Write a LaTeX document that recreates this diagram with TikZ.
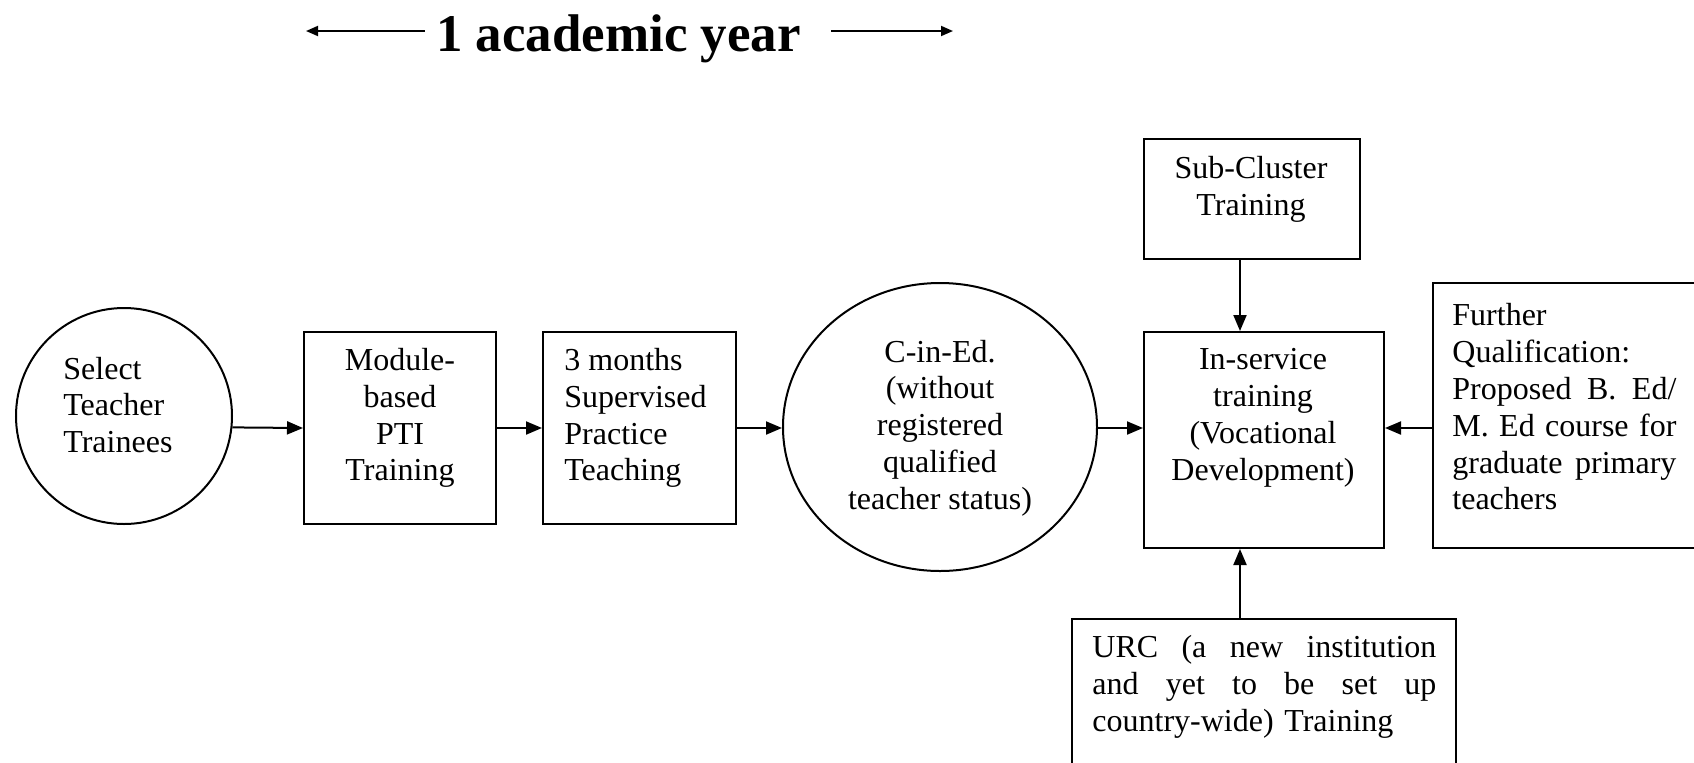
\documentclass[tikz,border=0pt]{standalone}
\usepackage{fontspec}
\setmainfont{Liberation Serif}
\usetikzlibrary{arrows.meta,shapes.geometric}
\newcommand\jline[2]{\leavevmode\hbox to #1{#2}}
\begin{document}
\begin{tikzpicture}[x=0.5pt,y=-0.5pt,
  shp/.style={draw, line width=1pt, inner sep=0pt},
  txt/.style={inner sep=0pt, font=\fontsize{16}{18.4}\selectfont},
  arr/.style={line width=1pt, -{Triangle[length=8pt,width=6.5pt]}},
  tarr/.style={line width=0.9pt, -{Triangle[length=6pt,width=5pt]}}]
\useasboundingbox (0,0) rectangle (1694,762);

% title
\node[inner sep=0pt, anchor=base, font=\fontsize{26.5}{30}\selectfont\bfseries] (ttl) at (618.5,51) {1 academic year};
\coordinate (lt) at (306,31);
\coordinate (rt) at (953,31);
\draw[tarr] ([xshift=-5.5pt]ttl.west |- lt) -- (lt);
\draw[tarr] ([xshift=15pt]ttl.east |- rt) -- (rt);

% shapes
\node[shp, circle, minimum size=108pt] (sel) at (124,416) {};
\node[shp, rectangle, minimum width=96pt, minimum height=96pt] (mod) at (400,428) {};
\node[shp, rectangle, minimum width=96.5pt, minimum height=96pt] (thr) at (639.5,428) {};
\node[shp, ellipse, minimum width=157pt, minimum height=144pt] (ced) at (940,427) {};
\node[shp, rectangle, minimum width=120pt, minimum height=108pt] (ins) at (1264,440) {};
\node[shp, rectangle, minimum width=108pt, minimum height=60pt] (sub) at (1252,199) {};
\node[shp, rectangle, minimum width=138.5pt, minimum height=132.5pt] (fq) at (1571.5,415.5) {};
\node[shp, rectangle, minimum width=192pt, minimum height=80.5pt] (urc) at (1264,699.5) {};

% texts
\node[txt, align=left, anchor=west] (selt) at (63,405) {Select\\Teacher\\Trainees};
\node[txt, align=center] (modt) at (400,418) {Module-\\based\\PTI\\Training};
\node[txt, align=left, anchor=west] (thrt) at (564,418) {3 months\\Supervised\\Practice\\Teaching};
\node[txt, align=center] (cedt) at (940,428) {C-in-Ed.\\(without\\registered\\qualified\\teacher status)};
\node[txt, align=center] (inst) at (1263,418) {In-service\\training\\(Vocational\\Development)};
\node[txt, align=center] (subt) at (1251,189) {Sub-Cluster\\Training};
\node[txt, align=left, anchor=west, text width=112pt] (fqt) at (1452,407) {Further\\Qualification:\\\jline{112pt}{Proposed\hfill B.\hfill Ed/}\\\jline{112pt}{M.\hfill Ed\hfill course\hfill for}\\\jline{112pt}{graduate\hfill primary}\\teachers};
\node[txt, align=left, anchor=west, text width=172pt] (urct) at (1092,687) {\jline{172pt}{URC\hfill (a\hfill new\hfill institution}\\\jline{172pt}{and\hfill yet\hfill to\hfill be\hfill set\hfill up}\\country-wide) Training};

% connectors
\draw[arr] (sel.-6.4) -- (mod.west);
\draw[arr] (mod.east) -- (thr.west);
\draw[arr] (thr.east) -- (ced.west |- thr.east);
\draw[arr] (ced.east |- thr.east) -- (ins.west |- thr.east);
\draw[arr] (fq.west |- thr.east) -- (ins.east |- thr.east);
\draw[arr] ([xshift=-6pt]sub.south) -- ([xshift=-6pt]sub.south |- ins.north);
\draw[arr] ([xshift=-12pt]urc.north) -- ([xshift=-12pt]urc.north |- ins.south);
\end{tikzpicture}
\end{document}
